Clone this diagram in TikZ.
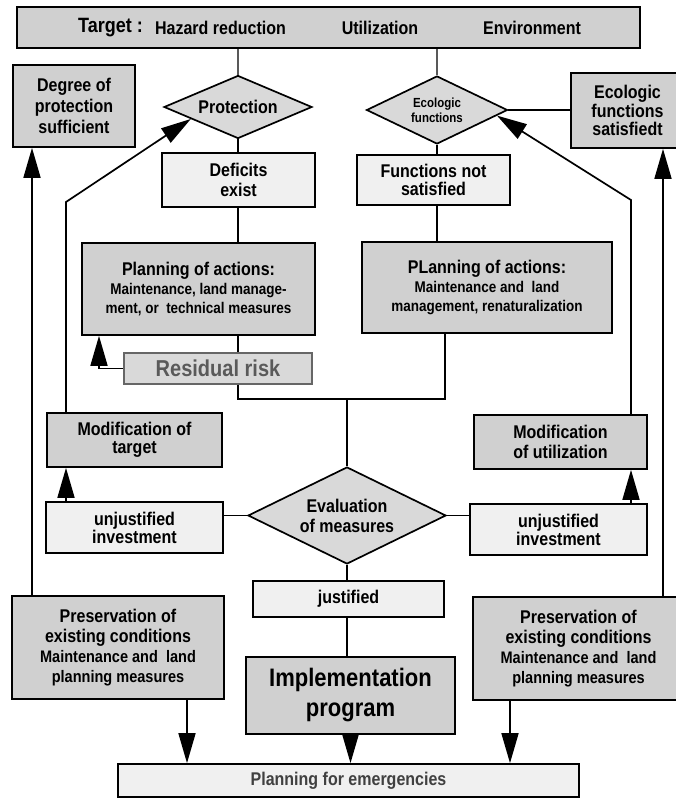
\documentclass[tikz,border=0pt]{standalone}
\usepackage{fontspec}
\setmainfont{Liberation Sans}[FakeStretch=0.87]
\usetikzlibrary{shapes.geometric,arrows.meta,calc}

\definecolor{cDark}{HTML}{D0D0D0}
\definecolor{cLight}{HTML}{F0F0F0}
\definecolor{cDia}{HTML}{D9D9D9}
\definecolor{cRisk}{HTML}{5A5A5A}

\newcommand{\fs}[2]{\fontsize{#1}{#2}\selectfont}

\tikzset{
  box/.style={draw, line width=1.7pt, inner sep=0pt, align=center, font=\bfseries\fs{18.4}{20}},
  shaded/.style={box, fill=cDark},
  pale/.style={box, fill=cLight},
  decision/.style={diamond, aspect=2, draw, line width=1.7pt, fill=cDia, inner sep=0pt, align=center, font=\bfseries\fs{18.4}{20}},
  label/.style={inner sep=0pt, font=\bfseries\fs{18.4}{20}},
  link/.style={line width=1.7pt},
  arr/.style={line width=1.7pt, -{Triangle[length=30pt,width=17pt]}},
  feed/.style={line width=1.2pt, draw=gray!70!black}
}

\begin{document}
\begin{tikzpicture}[x=1pt,y=-1pt]
\useasboundingbox (0,0) rectangle (675,798);

% target line
\node[shaded, minimum width=623pt, minimum height=41pt] (target) at (328.5,27.5) {};
\node[label, font=\bfseries\fs{20.7}{22}] (tgtA) at (110.5,28) {Target :};
\node[label] (tgtB) at (220.5,28) {Hazard reduction};
\node[label] (tgtC) at (380,28) {Utilization};
\node[label] (tgtD) at (532,28) {Environment};

% upper part
\node[shaded, minimum width=122pt, minimum height=82pt, font=\bfseries\fs{18.4}{21}] (degree) at (74,106) {Degree of\\protection\\sufficient};
\node[decision, minimum width=148pt, minimum height=63pt] (protect) at (238,107) {Protection};
\node[decision, minimum width=141pt, minimum height=68pt, font=\bfseries\fs{13.2}{15}] (ecod) at (437,110) {Ecologic\\functions};
\node[shaded, minimum width=113pt, minimum height=75pt, font=\bfseries\fs{18.4}{18.5}] (ecobox) at (627.5,110.5) {Ecologic\\functions\\satisfiedt};
\node[pale, minimum width=153pt, minimum height=54pt] (deficits) at (238.5,180) {Deficits\\exist};
\node[pale, minimum width=153pt, minimum height=50pt, font=\bfseries\fs{18.4}{18}] (funcnot) at (433.5,180) {Functions not\\satisfied};

\node[shaded, minimum width=233pt, minimum height=92pt, font=\bfseries\fs{18.4}{19}] (planL) at (198.5,289)
  {Planning of actions:\\\fs{15.5}{17}Maintenance, land manage-\\\fs{15.5}{17}ment, or\ \ technical measures};
\node[shaded, minimum width=250pt, minimum height=91pt, font=\bfseries\fs{18.4}{19}] (planR) at (487,287.5)
  {PLanning of actions:\\\fs{15.5}{16.5}Maintenance and\ \ land\\\fs{15.5}{16.5}management, renaturalization};
\node[box, draw=gray!80!black, fill=cDia, text=cRisk, minimum width=188pt, minimum height=31pt, font=\bfseries\fs{23}{24}] (residual) at (218,368.5) {Residual risk};

% middle part
\node[shaded, minimum width=175pt, minimum height=54pt, font=\bfseries\fs{18.4}{18}] (modT) at (134.5,440) {Modification of\\target};
\node[shaded, minimum width=173pt, minimum height=54pt] (modU) at (560.5,442) {Modification\\of utilization};
\node[pale, minimum width=177pt, minimum height=51pt, font=\bfseries\fs{18.4}{18}] (unjL) at (134.5,527.5) {unjustified\\investment};
\node[pale, minimum width=177pt, minimum height=51pt, font=\bfseries\fs{18.4}{18}] (unjR) at (558.5,529.5) {unjustified\\investment};
\node[decision, minimum width=198pt, minimum height=97pt] (evalm) at (347,515.5) {Evaluation\\of measures};

% lower part
\node[pale, minimum width=191pt, minimum height=36pt] (justified) at (348.5,599) {justified};
\node[shaded, minimum width=209pt, minimum height=77pt, font=\bfseries\fs{25.3}{30}] (impl) at (350.5,695.5) {Implementation\\program};
\node[shaded, minimum width=212pt, minimum height=103pt] (presL) at (118,647.5)
  {Preservation of\\existing conditions\\\fs{16.7}{19}Maintenance and\ \ land\\\fs{16.7}{19}planning measures};
\node[shaded, minimum width=211pt, minimum height=103pt] (presR) at (578.5,648.5)
  {Preservation of\\existing conditions\\\fs{16.7}{19}Maintenance and\ \ land\\\fs{16.7}{19}planning measures};
\node[pale, minimum width=461pt, minimum height=33pt, text=black!75] (emerg) at (348.5,780.5) {Planning for emergencies};

% bend points
\coordinate (xL) at (32,0);
\coordinate (xR) at (663,0);
\coordinate (lA) at (66,202);
\coordinate (rA) at (631,200);
\coordinate (rbend) at (99,0);
\coordinate (xm) at (238,0);
\coordinate (xr) at (445,0);
\coordinate (jn) at (347,399);
\coordinate (xa) at (187,0);
\coordinate (xb) at (510,0);

% connectors
\draw[feed] (target.south -| protect.north) -- (protect.north);
\draw[feed] (target.south -| ecod.north) -- (ecod.north);
\draw[link] (protect.south) -- (protect.south |- deficits.north);
\draw[link] (ecod.south) -- (ecod.south |- funcnot.north);
\draw[link] (ecod.east) -- (ecod.east -| ecobox.west);
\draw[link] (deficits.south -| xm) -- (planL.north -| xm);
\draw[link] (funcnot.south -| ecod.south) -- (planR.north -| ecod.south);
\draw[link] (planL.south -| xm) -- (residual.north -| xm);
\draw[arr] (residual.west) -| (planL.south -| rbend);
\draw[link] (residual.south -| xm) |- (jn -| xr) -- (planR.south -| xr);
\draw[link] (jn) -- (evalm.north);

\draw[arr] (presL.north -| xL) -- (degree.south -| xL);
\draw[arr] (presR.north -| xR) -- (ecobox.south -| xR);
\draw[arr] (modT.north -| lA) -- (lA) -- ($(protect.west)!0.37!(protect.south)$);
\draw[arr] (modU.north -| rA) -- (rA) -- ($(ecod.east)!0.16!(ecod.south)$);
\draw[arr] (unjL.north -| lA) -- (modT.south -| lA);
\draw[arr] (unjR.north -| rA) -- (modU.south -| rA);

\draw[link] (evalm.west -| unjL.east) -- (evalm.west);
\draw[link] (evalm.east) -- (evalm.east -| unjR.west);
\draw[link] (evalm.south) -- (evalm.south |- justified.north);
\draw[link] (evalm.south |- justified.south) -- (evalm.south |- impl.north);

\draw[arr] (presL.south -| xa) -- (emerg.north -| xa);
\draw[arr] (impl.south) -- (impl.south |- emerg.north);
\draw[arr] (presR.south -| xb) -- (emerg.north -| xb);
\end{tikzpicture}
\end{document}
